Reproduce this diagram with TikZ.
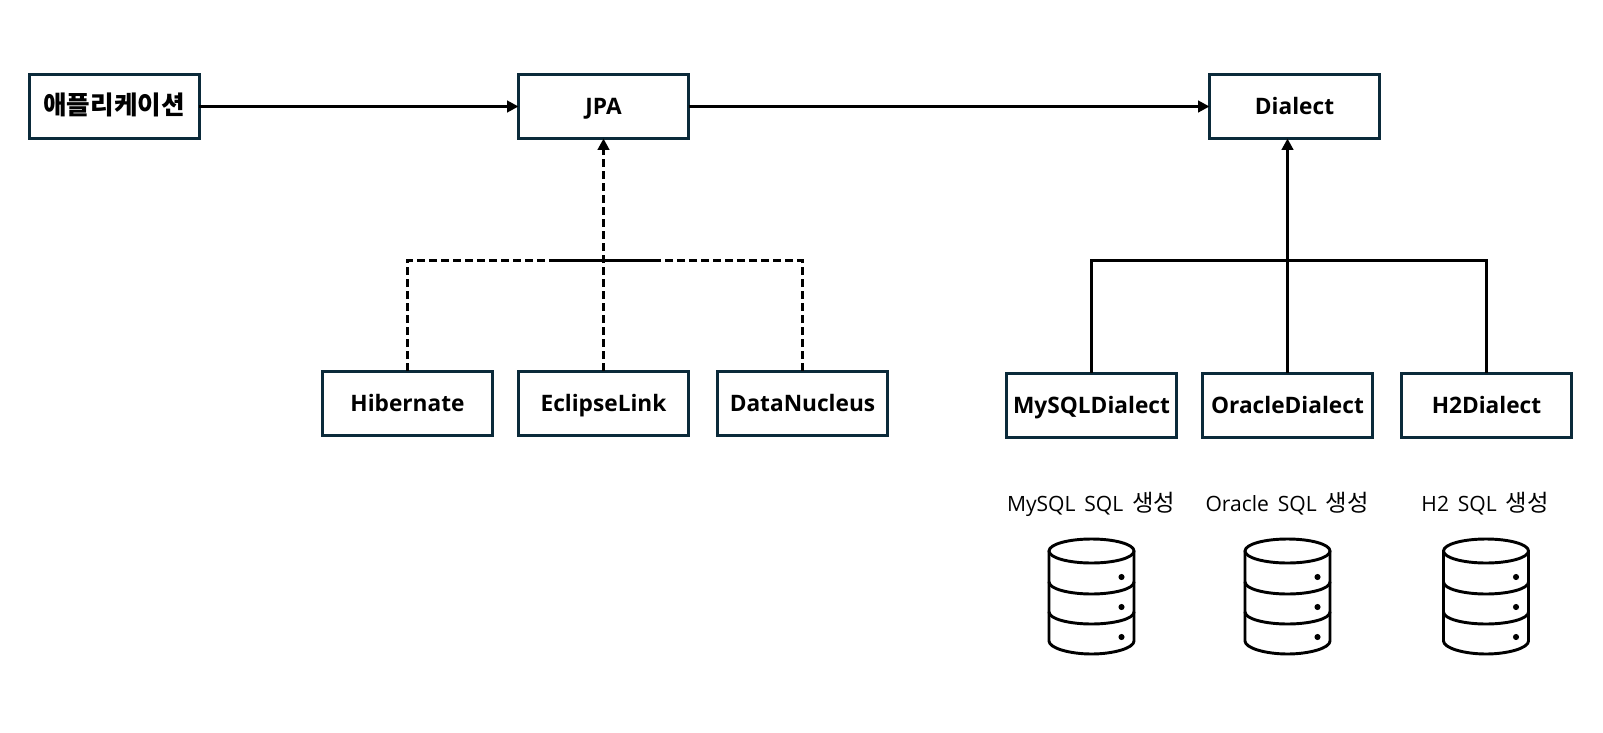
\documentclass[tikz,border=0pt]{standalone}
\usepackage{fontspec}
\setmainfont{Open Sans}
\newfontfamily\krfont{Noto Sans CJK KR}
\usetikzlibrary{arrows.meta}
\definecolor{boxline}{HTML}{0B2A3A}
\tikzset{
  x=0.75pt,y=-0.75pt,
  boxnode/.style={draw=boxline,line width=2.25pt,fill=white,minimum width=127.5pt,minimum height=48pt,inner sep=0pt,outer sep=0pt,text height=14.5pt,text depth=2pt,font=\fontsize{17}{20}\selectfont\bfseries},
  caption/.style={inner sep=0pt,text height=14.5pt,text depth=2pt,font=\fontsize{15.8}{19}\selectfont},
  link/.style={draw=black,line width=2.25pt},
  dashlink/.style={link,dash pattern=on 6pt off 3pt},
  tip/.style={-{Triangle[length=8.5pt,width=8.5pt]}},
  dbline/.style={draw=black,line width=2.2pt,line join=round,line cap=round},
  pics/dbicon/.style={code={
    \draw[dbline] (-42.5,0) arc[start angle=180,end angle=-180,x radius=42.5,y radius=12];
    \draw[dbline] (-42.5,0) -- (-42.5,90) .. controls (-42.5,97) and (-22,103) .. (0,103) .. controls (22,103) and (42.5,97) .. (42.5,90) -- (42.5,0);
    \draw[dbline] (-42.5,31) .. controls (-42.5,38) and (-22,43) .. (0,43) .. controls (22,43) and (42.5,38) .. (42.5,31);
    \draw[dbline] (-42.5,61) .. controls (-42.5,68) and (-22,73) .. (0,73) .. controls (22,73) and (42.5,68) .. (42.5,61);
    \fill (30,26) circle[radius=2.3pt];
    \fill (30,56) circle[radius=2.3pt];
    \fill (30,86) circle[radius=2.3pt];
  }}
}
\begin{document}
\begin{tikzpicture}
\useasboundingbox (0,0) rectangle (1603,732);
\node[boxnode] (app) at (114,106.5) {\krfont\fontsize{19.2}{20}\selectfont\bfseries 애플리케이션};
\node[boxnode] (jpa) at (603.5,106.5) {JPA};
\node[boxnode] (dialect) at (1294.5,106.5) {Dialect};
\node[boxnode] (hibernate) at (407.5,403) {Hibernate};
\node[boxnode] (eclipse) at (603.5,403) {EclipseLink};
\node[boxnode] (nucleus) at (802.5,403) {DataNucleus};
\node[boxnode] (mysql) at (1091.5,405) {MySQLDialect};
\node[boxnode] (oracle) at (1287.5,405) {OracleDialect};
\node[boxnode] (htwo) at (1486.5,405) {H2Dialect};

\coordinate (jl) at (407.5,260.5);
\coordinate (jr) at (802.5,260.5);
\coordinate (sl) at (551,260.5);
\coordinate (sr) at (658,260.5);
\coordinate (dl) at (1091.5,260.5);
\coordinate (dr) at (1486.5,260.5);

\draw[link,tip] (app) -- (jpa);
\draw[link,tip] (jpa) -- (dialect);
\draw[dashlink,tip] (eclipse.north) -- (eclipse.north |- jpa.south);
\draw[dashlink] (hibernate.north) -- (jl) -- (sl);
\draw[dashlink] (nucleus.north) -- (jr) -- (sr);
\draw[link] (sl) -- (sr);
\draw[link,tip] (oracle.north) -- (oracle.north |- dialect.south);
\draw[link,line join=miter] (mysql.north) -- (dl) -- (dr) -- (htwo.north);

\node[caption] (capa) at (1091,503.5) {MySQL\hspace{2.5pt} SQL\hspace{2.5pt} {\krfont\fontsize{17.5}{19}\selectfont 생성}};
\node[caption] (capb) at (1287,503.5) {Oracle\hspace{2.5pt} SQL\hspace{2.5pt} {\krfont\fontsize{17.5}{19}\selectfont 생성}};
\node[caption] (capc) at (1485,503.5) {H2\hspace{2.5pt} SQL\hspace{2.5pt} {\krfont\fontsize{17.5}{19}\selectfont 생성}};

\pic at (1091.5,551) {dbicon};
\pic at (1287.5,551) {dbicon};
\pic at (1486,551) {dbicon};
\end{tikzpicture}
\end{document}
